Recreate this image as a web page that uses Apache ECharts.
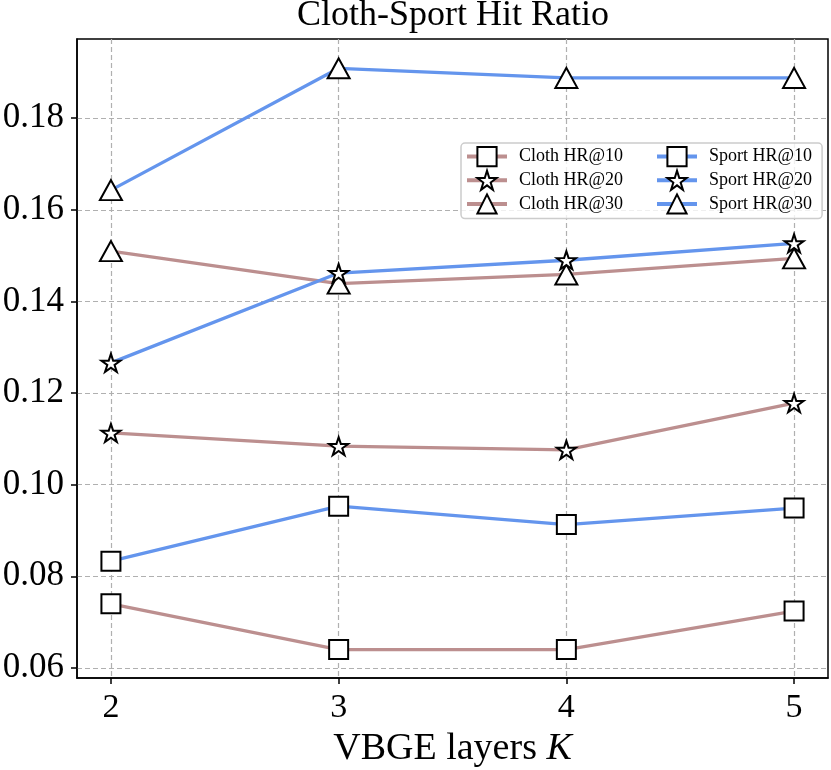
<!DOCTYPE html>
<html lang="en">
<head>
<meta charset="utf-8" />
<style>
  html, body { margin: 0; padding: 0; background: #fff; }
  .box { width: 831px; height: 770px; }
</style>
</head>
<body>
<div class="box"></div>
<script src="https://cdn.jsdelivr.net/npm/echarts@6/dist/echarts.min.js"></script>
<script>
// data
var layers = [2, 3, 4, 5];
var yTicks = [0.06, 0.08, 0.10, 0.12, 0.14, 0.16, 0.18];

var clothHR10 = [0.0740, 0.0640, 0.0640, 0.0724];
var clothHR20 = [0.1113, 0.1084, 0.1076, 0.1178];
var clothHR30 = [0.1510, 0.1439, 0.1459, 0.1494];
var sportHR10 = [0.0833, 0.0953, 0.0913, 0.0949];
var sportHR20 = [0.1266, 0.1462, 0.1490, 0.1527];
var sportHR30 = [0.1643, 0.1909, 0.1888, 0.1888];

(function () {
  var chart = echarts.init(document.querySelector('.box'));
  var FONT = '"Liberation Serif", "DejaVu Serif", serif';
  var CLOTH = '#bc8f8f';
  var SPORT = '#6495ed';

  // five point star marker (like matplotlib '*')
  function starPath() {
    var pts = [];
    for (var i = 0; i < 10; i++) {
      var r = i % 2 === 0 ? 1 : 0.382;
      var a = Math.PI / 2 + i * Math.PI / 5;
      pts.push((r * Math.cos(a)).toFixed(4) + ' ' + (-r * Math.sin(a)).toFixed(4));
    }
    return 'path://M' + pts.join(' L') + ' Z';
  }
  var STAR = starPath();

  function pairs(vals) {
    return layers.map(function (x, i) { return [x, vals[i]]; });
  }

  function mk(name, vals, color, symbol, size) {
    return {
      name: name,
      type: 'line',
      data: pairs(vals),
      symbol: symbol,
      symbolSize: size,
      showAllSymbol: true,
      lineStyle: { color: color, width: 3.3 },
      itemStyle: { color: '#fff', borderColor: '#000', borderWidth: 2 },
      emphasis: { disabled: true },
      z: 2
    };
  }

  // legend look shared by the two columns
  var legendBase = {
    orient: 'vertical',
    top: 143,
    itemWidth: 40,
    itemHeight: 24,
    itemGap: 2.5,
    lineStyle: { width: 4 },
    textStyle: { fontFamily: FONT, fontSize: 18, color: '#000', padding: [0, 0, 0, 7] }
  };

  var option = {
    animation: false,
    title: {
      text: 'Cloth-Sport Hit Ratio',
      left: 453,
      textAlign: 'center',
      top: -2,
      padding: 0,
      textStyle: { fontFamily: FONT, fontSize: 36, fontWeight: 'normal', color: '#000' }
    },
    legend: [
      Object.assign({}, legendBase, {
        data: ['Cloth HR@10', 'Cloth HR@20', 'Cloth HR@30'],
        left: 461,
        padding: [3, 199, 4, 4],
        backgroundColor: 'rgba(255,255,255,0.8)',
        borderColor: '#cccccc',
        borderWidth: 1.5,
        borderRadius: 4
      }),
      Object.assign({}, legendBase, {
        data: ['Sport HR@10', 'Sport HR@20', 'Sport HR@30'],
        left: 651,
        padding: [3, 4, 4, 4],
        z: 5
      })
    ],
    grid: {
      left: 77,
      right: 3,
      top: 39,
      bottom: 92,
      outerBoundsMode: 'none',
      show: true,
      borderColor: '#000',
      borderWidth: 1.5,
      backgroundColor: 'transparent'
    },
    xAxis: {
      type: 'value',
      min: 1.851,
      max: 5.149,
      name: '{n|VBGE layers }{k|K}',
      nameLocation: 'middle',
      nameGap: 52,
      nameTextStyle: {
        rich: {
          n: { fontFamily: FONT, fontSize: 38, color: '#000' },
          k: { fontFamily: FONT, fontSize: 38, fontStyle: 'italic', color: '#000' }
        }
      },
      axisLine: { show: true, lineStyle: { color: '#000', width: 1.5 } },
      axisTick: { show: true, inside: false, length: 6, customValues: layers, lineStyle: { color: '#000', width: 1.5 } },
      axisLabel: {
        customValues: layers,
        margin: 13,
        fontFamily: FONT,
        fontSize: 34,
        color: '#000',
        formatter: function (v) { return String(v); }
      },
      splitLine: { show: true, lineStyle: { color: '#b0b0b0', width: 1.2, type: [5, 3] } }
    },
    yAxis: {
      type: 'value',
      min: 0.0578,
      max: 0.1973,
      axisLine: { show: true, lineStyle: { color: '#000', width: 1.5 } },
      axisTick: { show: true, inside: false, length: 6, customValues: yTicks, lineStyle: { color: '#000', width: 1.5 } },
      axisLabel: {
        customValues: yTicks,
        margin: 13,
        fontFamily: FONT,
        fontSize: 35,
        color: '#000',
        formatter: function (v) { return v.toFixed(2); }
      },
      splitLine: { show: true, lineStyle: { color: '#b0b0b0', width: 1.2, type: [5, 3] } }
    },
    series: [
      mk('Cloth HR@10', clothHR10, CLOTH, 'rect', 19),
      mk('Cloth HR@20', clothHR20, CLOTH, STAR, [19, 18]),
      mk('Cloth HR@30', clothHR30, CLOTH, 'triangle', [22, 20]),
      mk('Sport HR@10', sportHR10, SPORT, 'rect', 19),
      mk('Sport HR@20', sportHR20, SPORT, STAR, [19, 18]),
      mk('Sport HR@30', sportHR30, SPORT, 'triangle', [22, 20])
    ]
  };

  chart.setOption(option);
})();
</script>
</body>
</html>
